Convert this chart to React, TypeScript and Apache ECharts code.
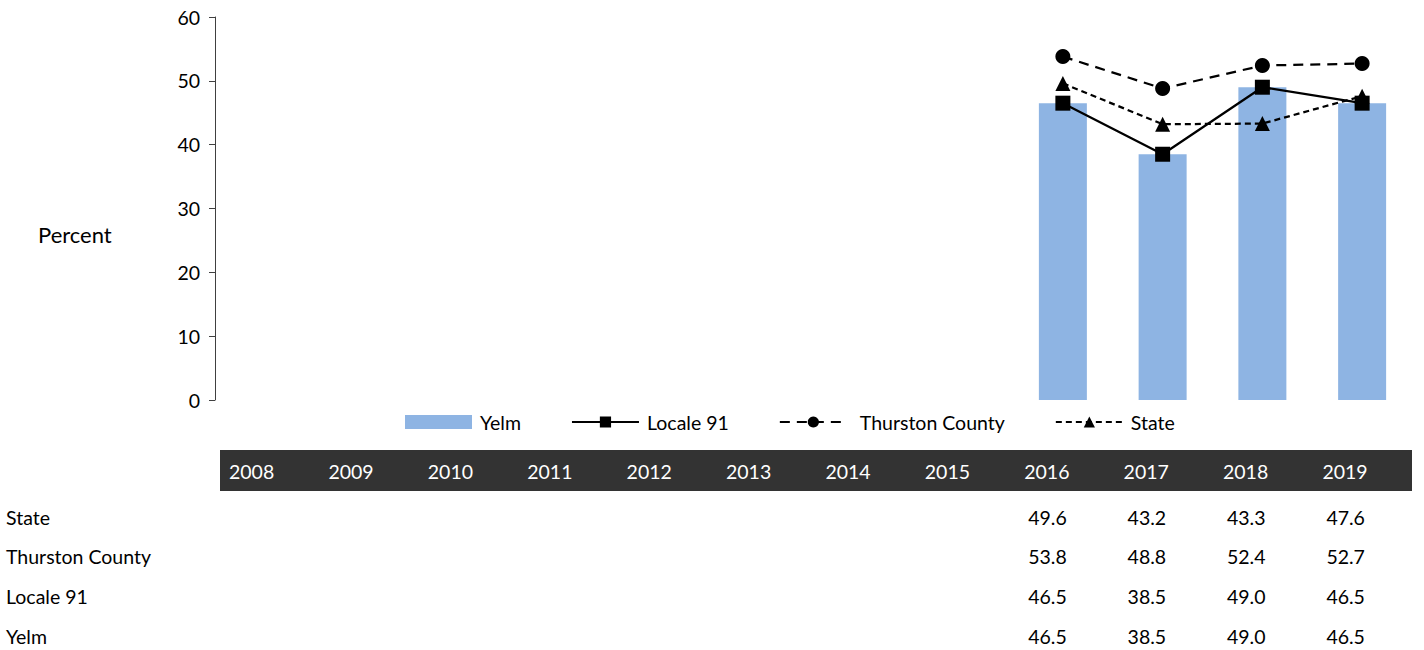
import React, { useEffect, useRef } from "react";
import * as echarts from "echarts";

const years = ["2008", "2009", "2010", "2011", "2012", "2013", "2014", "2015", "2016", "2017", "2018", "2019"];
const yelm = [null, null, null, null, null, null, null, null, 46.5, 38.5, 49.0, 46.5];
const locale91 = [null, null, null, null, null, null, null, null, 46.5, 38.5, 49.0, 46.5];
const thurston = [null, null, null, null, null, null, null, null, 53.8, 48.8, 52.4, 52.7];
const state = [null, null, null, null, null, null, null, null, 49.6, 43.2, 43.3, 47.6];

const FONT = "Lato";
const FS = 19.5;

export default function App() {
  const ref = useRef<HTMLDivElement>(null);
  useEffect(() => {
    const chart = echarts.init(ref.current!, null, { renderer: "svg" });
    const tableLeft = 220;
    const cellW = 99.4;
    const graphics: any[] = [];
    graphics.push({ type: "text", x: 38, y: 234, style: { text: "Percent", font: `22px ${FONT}`, fill: "#000", textVerticalAlign: "middle" } });
    graphics.push({ type: "rect", shape: { x: tableLeft, y: 450, width: 1192, height: 41 }, style: { fill: "#333333" } });
    years.forEach((y, i) => {
      graphics.push({ type: "text", x: tableLeft + i * cellW + 9, y: 471, style: { text: y, font: `${FS}px ${FONT}`, fill: "#fff", textVerticalAlign: "middle" } });
    });
    const rows: [string, (number | null)[]][] = [
      ["State", state],
      ["Thurston County", thurston],
      ["Locale 91", locale91],
      ["Yelm", yelm],
    ];
    rows.forEach(([name, vals], r) => {
      const yy = 517 + r * 39.7;
      graphics.push({ type: "text", x: 6, y: yy, style: { text: name, font: `${FS}px ${FONT}`, fill: "#000", textVerticalAlign: "middle" } });
      vals.forEach((v, i) => {
        if (v == null) return;
        graphics.push({ type: "text", x: tableLeft + i * cellW + 13, y: yy, style: { text: v.toFixed(1), font: `${FS}px ${FONT}`, fill: "#000", textVerticalAlign: "middle" } });
      });
    });

    chart.setOption({
      animation: false,
      grid: { left: 215, right: 12, top: 17, bottom: 250, containLabel: false },
      legend: {
        top: 407,
        left: 400,
        itemGap: 50,
        itemWidth: 67,
        itemHeight: 14,
        textStyle: { fontFamily: FONT, fontSize: FS, color: "#000", padding: [0, 0, 0, 3] },
        data: [
          { name: "Yelm", icon: "rect" },
          { name: "Locale 91" },
          { name: "Thurston County", textStyle: { padding: [0, 0, 0, 8] } },
          { name: "State" },
        ],
      },
      xAxis: {
        type: "category",
        data: years,
        axisLine: { show: false },
        axisTick: { show: false },
        axisLabel: { show: false },
      },
      yAxis: {
        type: "value",
        min: 0,
        max: 60,
        interval: 10,
        splitLine: { show: false },
        axisLine: { show: true, lineStyle: { color: "#404040", width: 1 } },
        axisTick: { show: true, length: 6, lineStyle: { color: "#404040" } },
        axisLabel: { fontFamily: FONT, fontSize: FS, color: "#000", margin: 15 },
      },
      series: [
        { name: "Yelm", type: "bar", data: yelm, barWidth: 48, itemStyle: { color: "#8EB4E3" } },
        {
          name: "Locale 91", type: "line", data: locale91, symbol: "rect", symbolSize: 15,
          lineStyle: { color: "#000", width: 2.25 }, itemStyle: { color: "#000" },
        },
        {
          name: "Thurston County", type: "line", data: thurston, symbol: "circle", symbolSize: 15,
          lineStyle: { color: "#000", width: 2.25, type: [10, 7] }, itemStyle: { color: "#000" },
        },
        {
          name: "State", type: "line", data: state, symbol: "triangle", symbolSize: 15,
          lineStyle: { color: "#000", width: 2.25, type: [6, 4] }, itemStyle: { color: "#000" },
        },
      ],
      graphic: graphics,
    });
    return () => chart.dispose();
  }, []);
  return <div ref={ref} style={{ width: 1424, height: 650, position: "absolute", left: 0, top: 0 }} />;
}
